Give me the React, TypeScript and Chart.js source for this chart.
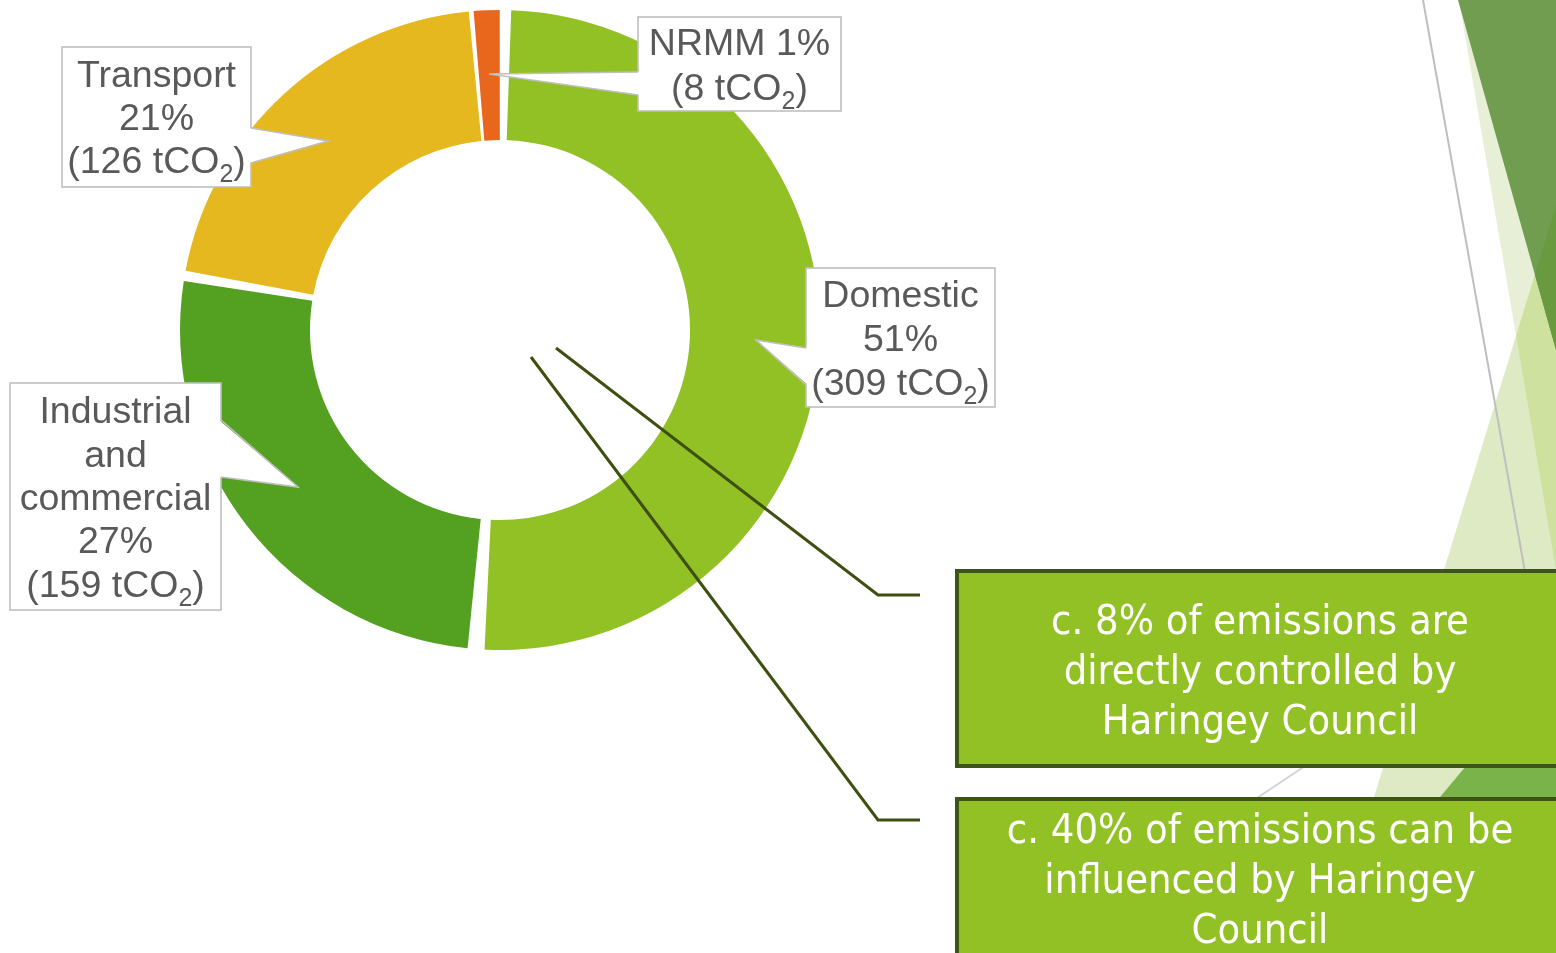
import React, { useEffect, useRef } from "react";
import { Chart, registerables } from "chart.js";

Chart.register(...registerables);

// ---------- data ----------
const categories = ["Domestic", "Industrial and commercial", "Transport", "NRMM"];
const emissions = [309, 159, 126, 8]; // tCO2
const percentLabels = ["51%", "27%", "21%", "1%"];
const sliceColors = ["#92C125", "#54A021", "#E5B820", "#E8671C"];
const nameLines = [["Domestic"], ["Industrial", "and", "commercial"], ["Transport"], ["NRMM"]];
const percentInline = [false, false, false, true];
const noteLines1 = ["c. 8% of emissions are", "directly controlled by", "Haringey Council"];
const noteLines2 = ["c. 40% of emissions can be", "influenced by Haringey", "Council"];

// ---------- layout (positions / styles only) ----------
type Callout = {
  box: [number, number, number, number];
  side: "left" | "right";
  base: [number, number];
  tip: [number, number];
  baselines: number[];
};
const callouts: Callout[] = [
  { box: [806, 268, 189, 139], side: "left", base: [348, 385], tip: [756, 340], baselines: [307, 351, 395] },
  { box: [10, 383, 211, 227], side: "right", base: [420, 477], tip: [298, 487], baselines: [423, 467, 510, 553, 597] },
  { box: [62, 47, 189, 140], side: "right", base: [128, 163], tip: [328, 141], baselines: [87, 130, 173] },
  { box: [638, 17, 203, 94], side: "left", base: [72, 95], tip: [489, 74], baselines: [55, 100] },
];

const LABEL_FONT = '"Liberation Sans", Arial, sans-serif';
const LABEL_SIZE = 37.5;
const SUB_SIZE = 25;
const LABEL_COLOR = "#595959";
const SPACING = 11;

function poly(ctx: CanvasRenderingContext2D, pts: number[][]) {
  ctx.beginPath();
  ctx.moveTo(pts[0][0], pts[0][1]);
  for (let i = 1; i < pts.length; i++) ctx.lineTo(pts[i][0], pts[i][1]);
  ctx.closePath();
}

const T1 = [[1459, 0], [1556, 0], [1556, 571]];
const T2 = [[1556, 206], [1556, 953], [1326, 953]];
const T3 = [[1458, 0], [1556, 0], [1556, 350]];
const T4 = [[1556, 658], [1556, 953], [1310, 953]];

const backgroundPlugin = {
  id: "slideBackground",
  beforeDraw(chart: any) {
    const ctx: CanvasRenderingContext2D = chart.ctx;
    ctx.save();
    poly(ctx, T2);
    ctx.fillStyle = "#DEEAC3";
    ctx.fill();
    poly(ctx, T1);
    ctx.fillStyle = "#E7F0D6";
    ctx.fill();
    ctx.save();
    poly(ctx, T1);
    ctx.clip();
    poly(ctx, T2);
    ctx.fillStyle = "#CFE19F";
    ctx.fill();
    ctx.restore();
    poly(ctx, T3);
    ctx.fillStyle = "#719D50";
    ctx.fill();
    ctx.save();
    poly(ctx, T3);
    ctx.clip();
    poly(ctx, T2);
    ctx.fillStyle = "#6A9A3F";
    ctx.fill();
    ctx.restore();
    poly(ctx, T4);
    ctx.fillStyle = "#79B34A";
    ctx.fill();
    ctx.strokeStyle = "#BFBFBF";
    ctx.lineWidth = 2;
    ctx.beginPath();
    ctx.moveTo(1423, 0);
    ctx.lineTo(1530, 600);
    ctx.stroke();
    ctx.strokeStyle = "#D4D4D4";
    ctx.beginPath();
    ctx.moveTo(1350, 736);
    ctx.lineTo(1200, 836);
    ctx.stroke();
    ctx.restore();
  },
};

function drawLabelLine(ctx: CanvasRenderingContext2D, cx: number, baseline: number, text: string) {
  const parts = text.split("_2");
  const segs: { t: string; sub: boolean }[] = [];
  parts.forEach((p, i) => {
    if (p) segs.push({ t: p, sub: false });
    if (i < parts.length - 1) segs.push({ t: "2", sub: true });
  });
  let total = 0;
  const widths = segs.map((s) => {
    ctx.font = `${s.sub ? SUB_SIZE : LABEL_SIZE}px ${LABEL_FONT}`;
    const w = ctx.measureText(s.t).width;
    total += w;
    return w;
  });
  let x = cx - total / 2;
  segs.forEach((s, i) => {
    ctx.font = `${s.sub ? SUB_SIZE : LABEL_SIZE}px ${LABEL_FONT}`;
    ctx.fillText(s.t, x, s.sub ? baseline + 9 : baseline);
    x += widths[i];
  });
}

const overlayPlugin = {
  id: "overlay",
  afterDraw(chart: any) {
    const ctx: CanvasRenderingContext2D = chart.ctx;
    ctx.save();

    callouts.forEach((c, i) => {
      const [bx, by, bw, bh] = c.box;
      const edgeX = c.side === "left" ? bx : bx + bw;
      const inset = c.side === "left" ? 2 : -2;
      ctx.fillStyle = "#FFFFFF";
      ctx.fillRect(bx, by, bw, bh);
      ctx.strokeStyle = "#BFBFBF";
      ctx.lineWidth = 1.6;
      ctx.strokeRect(bx, by, bw, bh);
      ctx.beginPath();
      ctx.moveTo(edgeX + inset, c.base[0]);
      ctx.lineTo(c.tip[0], c.tip[1]);
      ctx.lineTo(edgeX + inset, c.base[1]);
      ctx.closePath();
      ctx.fillStyle = "#FFFFFF";
      ctx.fill();
      ctx.beginPath();
      ctx.moveTo(edgeX, c.base[0]);
      ctx.lineTo(c.tip[0], c.tip[1]);
      ctx.lineTo(edgeX, c.base[1]);
      ctx.stroke();

      const lines: string[] = [];
      const names = nameLines[i];
      if (percentInline[i]) {
        lines.push(names.join(" ") + " " + percentLabels[i]);
      } else {
        names.forEach((n) => lines.push(n));
        lines.push(percentLabels[i]);
      }
      lines.push(`(${emissions[i]} tCO_2)`);
      ctx.fillStyle = LABEL_COLOR;
      ctx.textBaseline = "alphabetic";
      ctx.textAlign = "left";
      const cx = bx + bw / 2;
      lines.forEach((l, k) => drawLabelLine(ctx, cx, c.baselines[k], l));
    });

    ctx.strokeStyle = "#3D5010";
    ctx.lineWidth = 3;
    ctx.beginPath();
    ctx.moveTo(556, 348);
    ctx.lineTo(878, 595);
    ctx.lineTo(920, 595);
    ctx.stroke();
    ctx.beginPath();
    ctx.moveTo(531, 357);
    ctx.lineTo(878, 820);
    ctx.lineTo(920, 820);
    ctx.stroke();

    const boxes: [number, number, string[], number[]][] = [
      [571, 766, noteLines1, [634, 684, 734]],
      [799, 1000, noteLines2, [843, 893, 943]],
    ];
    const noteFont = '"DejaVu Sans Condensed", "DejaVu Sans", sans-serif';
    ctx.font = `40px ${noteFont}`;
    const refW = ctx.measureText(noteLines1[0]).width;
    const noteSize = (40 * 418) / refW;
    boxes.forEach(([top, bottom, lines, bl]) => {
      ctx.fillStyle = "#92C126";
      ctx.fillRect(957, top, 700, bottom - top);
      ctx.strokeStyle = "#3E5412";
      ctx.lineWidth = 4;
      ctx.strokeRect(957, top, 700, bottom - top);
      ctx.fillStyle = "#FFFFFF";
      ctx.font = `${noteSize}px ${noteFont}`;
      ctx.textAlign = "center";
      ctx.textBaseline = "alphabetic";
      lines.forEach((l, k) => ctx.fillText(l, 1260, bl[k]));
    });

    ctx.restore();
  },
};

export default function App() {
  const canvasRef = useRef<HTMLCanvasElement | null>(null);

  useEffect(() => {
    document.body.style.margin = "0";
    const canvas = canvasRef.current;
    if (!canvas) return;
    const chart = new Chart(canvas, {
      type: "doughnut",
      data: {
        labels: categories,
        datasets: [
          {
            data: emissions,
            backgroundColor: sliceColors,
            borderWidth: 0,
            spacing: SPACING,
          } as any,
        ],
      },
      options: {
        responsive: true,
        maintainAspectRatio: false,
        animation: false,
        events: [],
        radius: 320 - SPACING / 2,
        cutout: 190 - SPACING / 2,
        layout: { padding: { left: 180, top: 10, right: 736, bottom: 303 } },
        plugins: {
          legend: { display: false },
          tooltip: { enabled: false },
        },
      } as any,
      plugins: [backgroundPlugin, overlayPlugin],
    });
    return () => chart.destroy();
  }, []);

  return (
    <div style={{ position: "absolute", left: 0, top: 0, width: 1556, height: 953, background: "#FFFFFF", overflow: "hidden" }}>
      <canvas ref={canvasRef} />
    </div>
  );
}
